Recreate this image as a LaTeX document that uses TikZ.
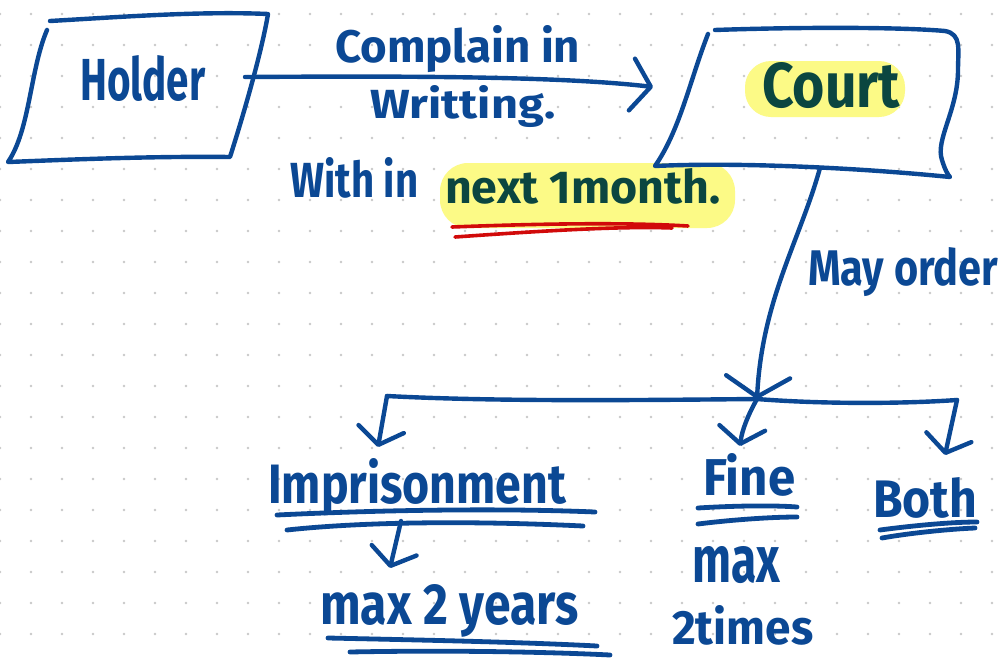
\documentclass[tikz,border=0pt]{standalone}
\usepackage{fontspec}
\setmainfont{Fira Sans}
\usetikzlibrary{arrows.meta}
\definecolor{ink}{HTML}{0B4894}
\definecolor{inkgreen}{HTML}{0B4640}
\definecolor{hilite}{HTML}{FCFA86}
\definecolor{redink}{HTML}{D10A0A}
\definecolor{dotgray}{HTML}{C8C8C8}
% hand-lettered word: fixed width and height above the baseline
\newcommand\hw[3]{\resizebox{#1pt}{#2pt}{#3}}

\begin{document}
\begin{tikzpicture}[x=1pt,y=-1pt,
  pen/.style={draw=ink,line width=4.4pt,line cap=round,line join=round},
  uline/.style={pen,line width=4.8pt},
  redline/.style={draw=redink,line width=3.6pt,line cap=round},
  word/.style={inner sep=0pt,anchor=base west,text=ink,font=\bfseries},
  hlbox/.style={fill=hilite,rounded corners=28pt},
  smalltip/.style={-{Straight Barb[length=16pt,width=46pt,round]}},
  bigtip/.style={-{Straight Barb[length=19pt,width=52pt,round]}}]

% page and dotted grid
\fill[white] (0,0) rectangle (1002,659);
\useasboundingbox (0,0) rectangle (1002,659);
\foreach \i in {0,...,32}
  \foreach \j in {0,...,20}
    \fill[dotgray] (31*\i,14+31*\j) circle (1.4);

% highlighter marks
\path[hlbox] (440,163) rectangle (735,228);
\path[hlbox,rounded corners=26pt] (745,61) rectangle (905,117);

% Holder box
\coordinate (hTL) at (50,21);
\coordinate (hTR) at (268,14);
\coordinate (hBR) at (230,157);
\coordinate (hBL) at (8,162);
\coordinate (hLT) at (47,30);
\draw[pen] (hTL) .. controls (120,17) and (200,11) .. (hTR)
  .. controls (262,50) and (245,110) .. (hBR)
  .. controls (150,156) and (60,160) .. (hBL)
  .. controls (30,130) and (30,70) .. (hLT);

% Court box
\coordinate (cTL) at (715,30);
\coordinate (cBL) at (655,166);
\coordinate (cLT) at (708,34);
\draw[pen] (cTL) .. controls (800,27) and (900,27) .. (945,31)
  .. controls (962,34) and (958,50) .. (958,70)
  .. controls (958,110) and (935,140) .. (942,160)
  .. controls (945,170) and (948,175) .. (950,177)
  .. controls (860,168) and (740,162) .. (cBL)
  .. controls (680,130) and (690,80) .. (cLT);

% labels
\node[word] (holder) at (80,100) {\hw{125}{45}{Holder}};
\node[word] (court) at (762,107) {\textcolor{inkgreen}{\hw{138}{45}{Court}}};
\node[word] (complain) at (335,62) {\hw{245}{37}{Complain in}};
\node[word] (writing) at (370,118) {\hw{185}{33}{Writting.}};
\node[word] (within) at (290,197) {\hw{128}{40}{With in}};
\node[word] (nextmonth) at (445,203) {\textcolor{inkgreen}{\hw{275}{35}{next 1month.}}};
\node[word] (mayorder) at (808,285) {\hw{190}{38}{May order}};
\node[word] (prison) at (268,503) {\hw{298}{45}{Imprisonment}};
\node[word] (twoyears) at (320,624) {\hw{258}{40}{max 2 years}};
\node[word] (fine) at (703,495) {\hw{92}{42}{Fine}};
\node[word] (finemax) at (692,582) {\hw{88}{36}{max}};
\node[word] (twotimes) at (672,644) {\hw{141}{39}{2times}};
\node[word] (both) at (873,517) {\hw{104}{40}{Both}};

% red underline
\draw[redline] (452,227) .. controls (530,224) and (620,222) .. (688,226);
\draw[redline] (455,237) .. controls (540,231) and (620,226) .. (672,228);

% Holder to Court
\coordinate (hOut) at (245,77);
\coordinate (cIn) at (653,87);
\draw[pen,bigtip] (hOut) .. controls (400,76) and (560,76) .. (cIn);

% Court down to the branch point
\coordinate (cOut) at (820,168);
\coordinate (split) at (757,399);
\draw[pen,-{Straight Barb[length=20pt,width=64pt,round]}]
  (cOut) .. controls (800,240) and (762,300) .. (split);

% branch rail
\coordinate (railL) at (387,396);
\coordinate (railR) at (957,400);
\draw[pen] (railL) .. controls (500,402) and (650,400) .. (split)
  .. controls (820,404) and (900,404) .. (railR);

% branch arrows
\coordinate (toPrison) at (378,447);
\coordinate (toFine) at (740,446);
\coordinate (toBoth) at (945,455);
\draw[pen,smalltip] (railL) -- (toPrison);
\draw[pen,smalltip] (split) .. controls (748,415) and (742,430) .. (toFine);
\draw[pen,smalltip] (railR) -- (toBoth);

% Imprisonment to max 2 years
\coordinate (pOut) at (401,521);
\coordinate (yIn) at (390,568);
\draw[pen,smalltip] (pOut) -- (yIn);

% double underlines
\draw[uline] (277,515) .. controls (380,510) and (500,508) .. (595,512);
\draw[uline] (287,530) .. controls (380,520) and (500,522) .. (583,526);
\draw[uline] (328,638) .. controls (420,640) and (520,642) .. (597,646);
\draw[uline] (350,652) .. controls (450,650) and (550,652) .. (610,655);
\draw[uline] (698,508) .. controls (730,506) and (770,505) .. (797,507);
\draw[uline] (698,524) .. controls (730,520) and (770,517) .. (797,517);
\draw[uline] (880,530) .. controls (910,526) and (950,522) .. (977,522);
\draw[uline] (882,538) .. controls (910,533) and (950,529) .. (975,528);

\end{tikzpicture}
\end{document}
